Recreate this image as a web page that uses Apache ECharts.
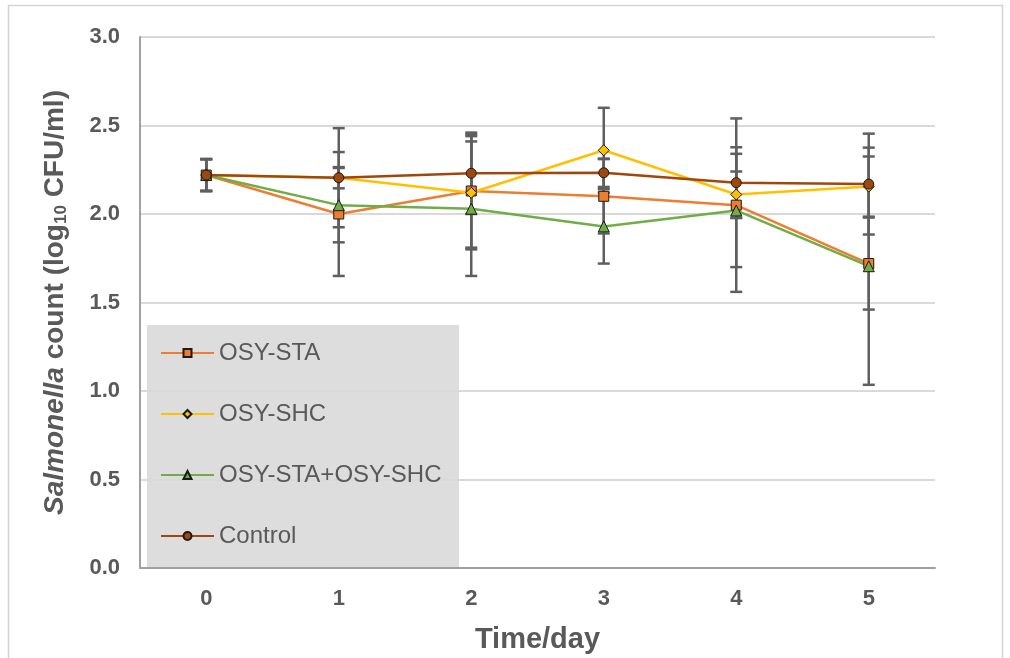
<!DOCTYPE html>
<html>
<head>
<meta charset="utf-8">
<script src="https://cdn.jsdelivr.net/npm/echarts@6/dist/echarts.min.js"></script>
<style>
  html, body { margin: 0; padding: 0; background: #ffffff; }
  #chart { width: 1010px; height: 658px; }
</style>
</head>
<body>
<div id="chart"></div>
<script>
// Sampling days
const days = ['0', '1', '2', '3', '4', '5'];

// Series means (log10 CFU/ml) and their error margins
const staMean  = [2.22, 2.00, 2.13, 2.10, 2.05, 1.72];
const staErr   = [0.09, 0.35, 0.32, 0.21, 0.49, 0.26];
const shcMean  = [2.22, 2.205, 2.12, 2.36, 2.11, 2.155];
const shcErr   = [0.09, 0.06, 0.32, 0.24, 0.13, 0.17];
const mixMean  = [2.22, 2.05, 2.03, 1.93, 2.02, 1.705];
const mixErr   = [0.09, 0.21, 0.38, 0.21, 0.32, 0.67];
const ctrlMean = [2.22, 2.205, 2.23, 2.233, 2.177, 2.169];
const ctrlErr  = [0.09, 0.28, 0.23, 0.08, 0.20, 0.285];

// Y axis ticks
const yTicks = [0, 0.5, 1.0, 1.5, 2.0, 2.5, 3.0];

const FONT = 'Liberation Sans, Arial, Helvetica, sans-serif';
const TEXT = '#595959';

const seriesDefs = [
  { name: 'OSY-STA',         mean: staMean,  err: staErr,  color: '#ED7D31', symbol: 'rect',     size: 10 },
  { name: 'OSY-SHC',         mean: shcMean,  err: shcErr,  color: '#FFC000', symbol: 'diamond',  size: 11 },
  { name: 'OSY-STA+OSY-SHC', mean: mixMean,  err: mixErr,  color: '#70AD47', symbol: 'triangle', size: 11 },
  { name: 'Control',         mean: ctrlMean, err: ctrlErr, color: '#9E480E', symbol: 'circle',   size: 10 }
];

function errorBarItem(params, api) {
  const x = api.value(0), m = api.value(1), e = api.value(2);
  const top = api.coord([x, m + e]);
  const bot = api.coord([x, m - e]);
  const hw = 6;
  const st = { stroke: '#5f5f5f', lineWidth: 2.5 };
  return {
    type: 'group',
    children: [
      { type: 'line', shape: { x1: top[0], y1: top[1], x2: bot[0], y2: bot[1] }, style: st },
      { type: 'line', shape: { x1: top[0] - hw, y1: top[1], x2: top[0] + hw, y2: top[1] }, style: st },
      { type: 'line', shape: { x1: bot[0] - hw, y1: bot[1], x2: bot[0] + hw, y2: bot[1] }, style: st }
    ]
  };
}

const series = [];
seriesDefs.forEach(function (d) {
  series.push({
    type: 'custom',
    name: d.name + ' error',
    renderItem: errorBarItem,
    encode: { x: 0, y: 1 },
    data: d.mean.map(function (m, i) { return [i, m, d.err[i]]; }),
    z: 1,
    silent: true
  });
});
seriesDefs.forEach(function (d) {
  series.push({
    type: 'line',
    name: d.name,
    data: d.mean,
    symbol: d.symbol,
    symbolSize: d.size,
    showAllSymbol: true,
    lineStyle: { color: d.color, width: 2.5 },
    itemStyle: { color: d.color, borderColor: '#1a1a1a', borderWidth: 1 },
    z: 3
  });
});

const chart = echarts.init(document.getElementById('chart'), null, { renderer: 'canvas' });
chart.setOption({
  animation: false,
  backgroundColor: '#ffffff',
  textStyle: { fontFamily: FONT },
  graphic: [
    {
      type: 'rect', z: -10, silent: true,
      shape: { x: 8.5, y: 5.5, width: 994, height: 700 },
      style: { fill: 'none', stroke: '#d4d4d4', lineWidth: 1.5 }
    },
    {
      type: 'rect', z: -10, silent: true,
      shape: { x: 147, y: 325, width: 312, height: 242 },
      style: { fill: '#dddddd' }
    }
  ],
  grid: { left: 140, right: 75, top: 37, bottom: 90, containLabel: false, outerBoundsMode: 'none' },
  legend: {
    data: seriesDefs.map(function (d) { return d.name; }),
    orient: 'vertical',
    left: 160,
    top: 341,
    padding: 0,
    itemWidth: 53,
    itemHeight: 10,
    itemGap: 37,
    textStyle: { fontSize: 24, color: TEXT, fontFamily: FONT, padding: [0, 0, 0, 0] },
    z: 5
  },
  xAxis: {
    type: 'category',
    data: days,
    boundaryGap: true,
    name: 'Time/day',
    nameLocation: 'middle',
    nameGap: 57,
    nameTextStyle: { fontSize: 29, fontWeight: 'bold', color: TEXT, fontFamily: FONT },
    axisLine: { show: true, lineStyle: { color: '#a0a0a0', width: 2 } },
    axisTick: { show: false },
    axisLabel: { fontSize: 22, fontWeight: 'bold', color: TEXT, margin: 20, fontFamily: FONT },
    splitLine: { show: false }
  },
  yAxis: {
    type: 'value',
    min: yTicks[0],
    max: yTicks[yTicks.length - 1],
    interval: 0.5,
    name: '{i|Salmonella} count (log{s|10} CFU/ml)',
    nameLocation: 'middle',
    nameRotate: 90,
    nameGap: 70,
    nameTextStyle: {
      fontSize: 28, fontWeight: 'bold', color: TEXT, fontFamily: FONT, lineHeight: 30,
      rich: {
        i: { fontSize: 28, fontWeight: 'bold', fontStyle: 'italic', color: TEXT, fontFamily: FONT, lineHeight: 30 },
        s: { fontSize: 17, fontWeight: 'bold', color: TEXT, fontFamily: FONT, verticalAlign: 'bottom', lineHeight: 17 }
      }
    },
    axisLine: { show: true, lineStyle: { color: '#a0a0a0', width: 2 } },
    axisTick: { show: false },
    axisLabel: {
      fontSize: 22, fontWeight: 'bold', color: TEXT, margin: 20, fontFamily: FONT,
      formatter: function (v) { return v.toFixed(1); }
    },
    splitLine: { show: true, lineStyle: { color: '#d9d9d9', width: 2 } }
  },
  series: series
});
</script>
</body>
</html>
